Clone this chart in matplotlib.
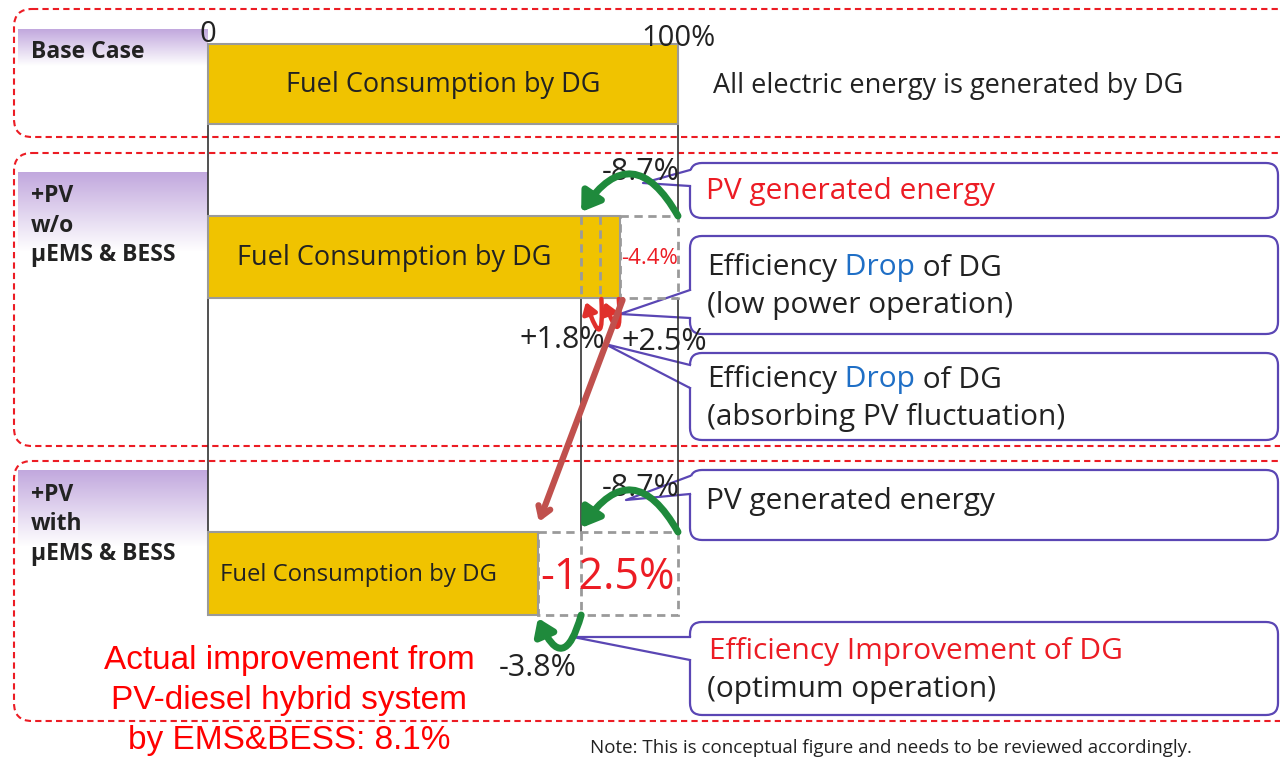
import matplotlib
matplotlib.use('Agg')
import matplotlib.pyplot as plt
import numpy as np
from matplotlib.patches import FancyBboxPatch, FancyArrowPatch, Polygon

plt.rcParams['font.family'] = ['Open Sans', 'DejaVu Sans']

# --- data (conceptual figure, drawn widths are not to scale) ---
row_names = [['Base Case'], ['+PV', 'w/o', 'µEMS & BESS'], ['+PV', 'with', 'µEMS & BESS']]
base_edges = [0, 100]
wo_edges = [0, 79.4, 83.4, 87.7, 100]     # fuel | +1.8 | +2.5 | -4.4 (box)
with_edges = [0, 70.2, 79.4, 100]         # fuel | -3.8 | -8.7 (box)
wo_labels = ['-8.7%', '+1.8%', '+2.5%', '-4.4%']
with_labels = ['-8.7%', '-3.8%', '-12.5%']
improvement = 8.1

bar_label = 'Fuel Consumption by DG'
YEL = '#f0c300'
GREEN = '#1f8a3c'
RED = '#ec1c24'
BLUE = '#1f6fc6'
BOX = '#5a46b4'
INK = '#222222'

fig = plt.figure(figsize=(12.8, 7.59), dpi=100)

# pixel canvas for frames / callouts
deco = fig.add_axes([0, 0, 1, 1])
deco.axis('off')

# red dashed frames
for y0, y1 in [(9, 137), (153, 446), (461, 721)]:
    deco.add_patch(FancyBboxPatch((14, y0), 1300, y1 - y0,
                                  boxstyle='round,pad=0,rounding_size=18',
                                  fc='none', ec=RED, lw=1.5, ls=(0, (3, 2))))

# purple header strips with row names
grad = np.linspace(0, 1, 64)[:, None]
purple = np.array([0.76, 0.66, 0.87])
img = purple[None, None, :] * (1 - grad[:, :, None]) + grad[:, :, None]
for (y0, y1), lines, ty in zip([(29, 66), (172, 252), (470, 547)], row_names, [52, 196, 495]):
    deco.imshow(img, extent=(18, 208, y1, y0), aspect='auto', zorder=1)
    for i, s in enumerate(lines):
        deco.text(31, ty + i * 29.5, s, fontsize=16.5, fontweight='bold', color=INK,
                  va='center', ha='left', zorder=3)
deco.set_xlim(0, 1280)
deco.set_ylim(759, 0)

renderer = fig.canvas.get_renderer()


def parts_text(x, y, parts, **kw):
    for s, c in parts:
        t = deco.text(x, y, s, color=c, va='center', ha='left', **kw)
        x += t.get_window_extent(renderer=renderer).width


def callout(y0, y1, tip, ya, yb):
    deco.add_patch(FancyBboxPatch((690, y0), 588, y1 - y0,
                                  boxstyle='round,pad=0,rounding_size=12',
                                  fc='white', ec=BOX, lw=1.6, zorder=2))
    deco.add_patch(Polygon([(692, ya), tip, (692, yb)], closed=True,
                           fc='white', ec='none', zorder=3))
    deco.plot([690, tip[0], 690], [ya, tip[1], yb], color=BOX, lw=1.6, zorder=3)


callout(163, 218, (643, 183), 170, 186)
callout(236, 334, (620, 314), 290, 318)
callout(353, 440, (605, 344), 365, 388)
callout(470, 540, (626, 500), 476, 494)
callout(622, 715, (573, 637), 637, 660)

fs = 21.5
deco.text(706, 192, 'PV generated energy', color=RED, fontsize=fs, va='center')
parts_text(707, 268, [('Efficiency', INK), (' Drop', BLUE), (' of DG', INK)], fontsize=fs)
deco.text(707, 305, '(low power operation)', color=INK, fontsize=fs, va='center')
parts_text(707, 380, [('Efficiency', INK), (' Drop', BLUE), (' of DG', INK)], fontsize=fs)
deco.text(707, 417, '(absorbing PV fluctuation)', color=INK, fontsize=fs, va='center')
deco.text(706, 502, 'PV generated energy', color=INK, fontsize=fs, va='center')
deco.text(709, 652, 'Efficiency Improvement of DG', color=RED, fontsize=fs, va='center')
deco.text(707, 689, '(optimum operation)', color=INK, fontsize=fs, va='center')
deco.text(713, 86, 'All electric energy is generated by DG', color=INK, fontsize=19.5, va='center')

red_lines = ['Actual improvement from', 'PV-diesel hybrid system',
             'by EMS&BESS: %.1f%%' % improvement]
for i, s in enumerate(red_lines):
    deco.text(289, 660 + i * 40, s, color='#ff0000', fontsize=24, ha='center', va='center',
              family=['Liberation Sans', 'DejaVu Sans'])
deco.text(590, 757, 'Note: This is conceptual figure and needs to be reviewed accordingly.',
          fontsize=13.5, color=INK, va='bottom', ha='left')

# bar axes: x in % of base case fuel, y in pixel rows
ax = fig.add_axes([0, 0, 1, 1])
ax.set_facecolor('none')
ax.set_xlim(-208 / 4.7, 1072 / 4.7)
ax.set_ylim(759, 0)
ax.axis('off')

rows_y = [84, 257, 573]
rows_h = [80, 82, 83]

# yellow fuel bars
ax.barh(rows_y[0], base_edges[1] - base_edges[0], left=base_edges[0], height=rows_h[0],
        color=YEL, edgecolor='#9a9a9a', lw=1.5, zorder=3)
ax.barh(rows_y[1], wo_edges[3] - wo_edges[0], left=wo_edges[0], height=rows_h[1],
        color=YEL, edgecolor='#9a9a9a', lw=1.5, zorder=3)
ax.barh(rows_y[2], with_edges[1] - with_edges[0], left=with_edges[0], height=rows_h[2],
        color=YEL, edgecolor='#9a9a9a', lw=1.5, zorder=3)

# dashed (removed) parts
ax.barh(rows_y[1], wo_edges[4] - wo_edges[3], left=wo_edges[3], height=rows_h[1],
        fill=False, edgecolor='#9a9a9a', lw=2, ls=(0, (3, 2)), zorder=3)
ax.barh(rows_y[2], with_edges[3] - with_edges[1], left=with_edges[1], height=rows_h[2],
        fill=False, edgecolor='#9a9a9a', lw=2, ls=(0, (3, 2)), zorder=3)
for xs, yc, h in [(wo_edges[1:3], rows_y[1], rows_h[1]), (with_edges[2:3], rows_y[2], rows_h[2])]:
    ax.vlines(xs, yc - h / 2, yc + h / 2, colors='#9a9a9a', lw=2, linestyles=(0, (3, 2)), zorder=4)

# guide lines
ax.vlines(0, 124, 532, color='#333333', lw=1.2, zorder=2)
ax.vlines(100, 124, 216, color='#333333', lw=1.2, zorder=2)
ax.vlines([100, wo_edges[1]], 298, 532, color='#333333', lw=1.2, zorder=2)

# bar texts
ax.text(50, rows_y[0] + 1, bar_label, fontsize=19.5, ha='center', va='center', color=INK, zorder=5)
ax.text(wo_edges[1] / 2, rows_y[1] + 1, bar_label, fontsize=19.5, ha='center', va='center', color=INK, zorder=5)
ax.text(with_edges[1] / 2 - 3, rows_y[2] + 2, bar_label, fontsize=17.2, ha='center', va='center', color=INK, zorder=5)
ax.text(0, 35, '0', fontsize=21, ha='center', va='center', color=INK)
ax.text(100, 38, '100%', fontsize=21, ha='center', va='center', color=INK)

# change labels
pfs = 22
ax.text((wo_edges[1] + 100) / 2 + 2.3, 172, wo_labels[0], fontsize=pfs, ha='center', va='center', color=INK, zorder=6)
ax.text(wo_edges[2] + 1, 340, wo_labels[1], fontsize=pfs, ha='right', va='center', color=INK, zorder=6)
ax.text(wo_edges[3] + 0.3, 342, wo_labels[2], fontsize=pfs, ha='left', va='center', color=INK, zorder=6)
ax.text((wo_edges[3] + 100) / 2, 258, wo_labels[3], fontsize=16, ha='center', va='center', color=RED, zorder=6)
ax.text((with_edges[2] + 100) / 2 + 2.3, 488, with_labels[0], fontsize=pfs, ha='center', va='center', color=INK, zorder=6)
ax.text(with_edges[1], 668, with_labels[1], fontsize=pfs, ha='center', va='center', color=INK, zorder=6)
ax.text((with_edges[1] + 100) / 2, 578, with_labels[2], fontsize=31, ha='center', va='center', color=RED, zorder=6)


# arrows
def arrow(p0, p1, rad, color, lw, head=(9, 6), z=7):
    ax.add_patch(FancyArrowPatch(p0, p1, connectionstyle='arc3,rad=%s' % rad,
                                 arrowstyle='-|>,head_length=%s,head_width=%s' % (head[0] / 1.39, head[1] / 1.39),
                                 color=color, lw=lw, shrinkA=0, shrinkB=0, zorder=z))


arrow((100, 216), (wo_edges[1], 212), 0.8, GREEN, 5, head=(15, 10))
arrow((100, 532), (with_edges[2], 528), 0.8, GREEN, 5, head=(15, 10))
arrow((with_edges[2], 615), (with_edges[1], 618), -1.4, GREEN, 5, head=(13, 9))
arrow((wo_edges[2] + 0.3, 299), (wo_edges[1] + 1.0, 302), -3.6, '#e0302c', 3.2, head=(9, 6))
arrow((wo_edges[3] - 0.3, 299), (wo_edges[2] + 1.0, 302), -3.6, '#e0302c', 3.2, head=(9, 6))
ax.add_patch(FancyArrowPatch((wo_edges[3] + 0.5, 300), (with_edges[1] + 0.2, 522),
                             arrowstyle='->,head_length=7,head_width=4.5',
                             color='#c0504d', lw=4.5, shrinkA=0, shrinkB=0, zorder=8))

fig.savefig('out.png', dpi=100)
